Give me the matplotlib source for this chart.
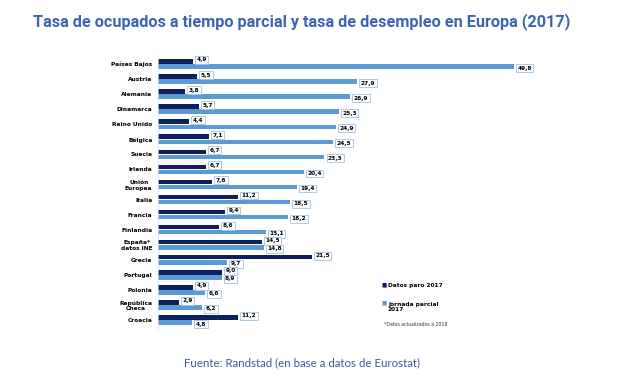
import matplotlib.pyplot as plt

countries = ['Países Bajos', 'Austria', 'Alemania', 'Dinamarca', 'Reino Unido',
             'Bélgica', 'Suecia', 'Irlanda', 'Unión\nEuropea', 'Italia', 'Francia',
             'Finlandia', 'España*\ndatos INE', 'Grecia', 'Portugal', 'Polonia',
             'República\nCheca', 'Croacia']
paro = [4.9, 5.5, 3.8, 5.7, 4.4, 7.1, 6.7, 6.7, 7.6, 11.2, 9.4, 8.6, 14.5, 21.5, 9.0, 4.9, 2.9, 11.2]
parcial = [49.8, 27.9, 26.9, 25.3, 24.9, 24.5, 23.3, 20.4, 19.4, 18.5, 18.2, 15.1, 14.8, 9.7, 8.9, 6.6, 6.2, 4.8]

dark = '#0c1f5e'
light = '#5b9bd5'
title_col = '#3c64b4'

fig = plt.figure(figsize=(6.29, 3.88), dpi=100)
ax = fig.add_axes([158 / 629, 1 - 329 / 388, 393 / 629, 274 / 388])

y = list(range(len(countries)))
ax.barh([i - 0.17 for i in y], paro, height=0.3, color=dark)
ax.barh([i + 0.17 for i in y], parcial, height=0.3, color=light)

box = dict(boxstyle='square,pad=0.25', fc='white', ec='#9dc3e6', lw=0.6)
for i in y:
    ax.annotate(f'{paro[i]:.1f}'.replace('.', ','), (paro[i], i - 0.27),
                xytext=(2.5, 0), textcoords='offset points', fontsize=4.2,
                fontweight='bold', va='center', ha='left', bbox=box)
    ax.annotate(f'{parcial[i]:.1f}'.replace('.', ','), (parcial[i], i + 0.27),
                xytext=(2.5, 0), textcoords='offset points', fontsize=4.2,
                fontweight='bold', va='center', ha='left', bbox=box)

ax.set_xlim(0, 55)
ax.set_ylim(len(countries) - 0.4, -0.6)
ax.set_yticks(y)
ax.set_yticklabels(countries, fontsize=4.2, fontweight='bold', multialignment='center')
ax.tick_params(axis='y', length=0, pad=4)
ax.set_xticks([])
for s in ax.spines.values():
    s.set_visible(False)
ax.spines['left'].set_visible(True)
ax.spines['left'].set_color('#d9d9d9')
ax.spines['left'].set_linewidth(0.5)

# legend
fig.text(382 / 629, 1 - 285 / 388, '■', color=dark, fontsize=4, va='center', ha='left')
fig.text(388 / 629, 1 - 285 / 388, 'Datos paro 2017', fontsize=4.2, fontweight='bold',
         va='center', ha='left')
fig.text(382 / 629, 1 - 303 / 388, '■', color=light, fontsize=4, va='center', ha='left')
fig.text(388 / 629, 1 - 307 / 388, 'Jornada parcial\n2017', fontsize=4.2, fontweight='bold',
         va='center', ha='left', linespacing=1.2)
fig.text(384 / 629, 1 - 324 / 388, '*Datos actualizados a 2018', fontsize=3.3,
         va='center', ha='left', color='#333333')

fig.text(33 / 629, 1 - 22 / 388,
         'Tasa de ocupados a tiempo parcial y tasa de desempleo en Europa (2017)',
         fontsize=11.7, fontweight='bold', color=title_col, va='center', ha='left',
         family=['Roboto', 'DejaVu Sans'])
fig.text(302 / 629, 1 - 363 / 388, 'Fuente: Randstad (en base a datos de Eurostat)',
         fontsize=8.3, color='#3a5a9c', va='center', ha='center', family=['Lato', 'DejaVu Sans'])

fig.savefig('out.png', dpi=100)
